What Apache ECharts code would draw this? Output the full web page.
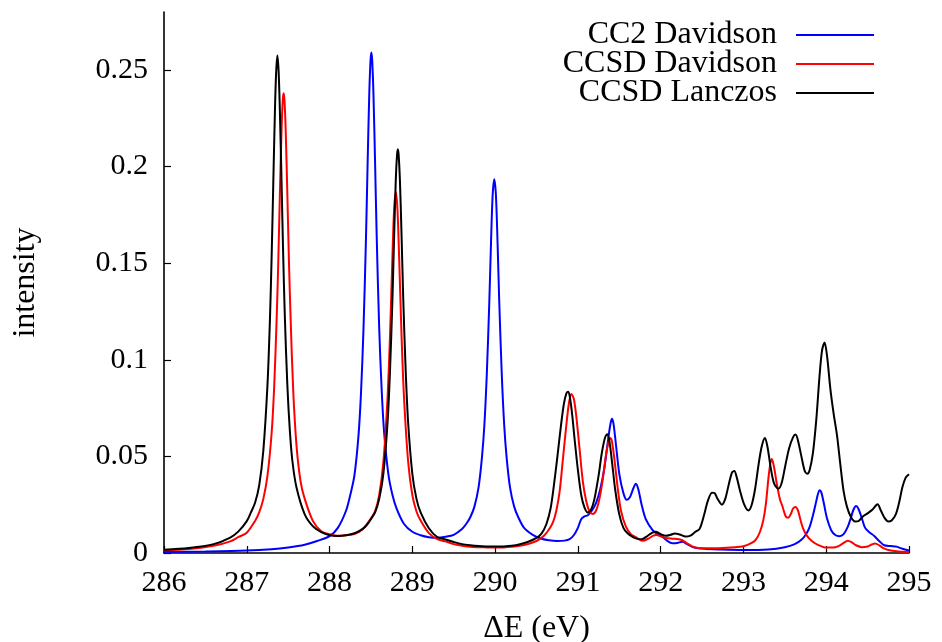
<!DOCTYPE html>
<html>
<head>
<meta charset="utf-8">
<script src="https://cdn.jsdelivr.net/npm/echarts@6/dist/echarts.min.js"></script>
<style>
html,body{margin:0;padding:0;background:#fff;}
#chart{width:942px;height:642px;}
</style>
</head>
<body>
<div id="chart"></div>
<script>
// ---- data ----
const seriesNames = ['CC2 Davidson', 'CCSD Davidson', 'CCSD Lanczos'];
const xTicks = [286, 287, 288, 289, 290, 291, 292, 293, 294, 295];
const yTicks = [0, 0.05, 0.1, 0.15, 0.2, 0.25];

const cc2X = [286.0,286.5,287.0,287.3,287.5,287.7,287.85,288.0,288.1,288.2,288.25,288.3,288.35,288.38,288.41,288.44,288.46,288.48,288.495,288.505,288.515,288.53,288.55,288.57,288.6,288.63,288.66,288.71,288.76,288.81,288.9,289.0,289.1,289.2,289.3,289.4,289.5,289.6,289.65,289.7,289.75,289.8,289.84,289.87,289.9,289.93,289.95,289.97,289.99,290.01,290.03,290.05,290.08,290.11,290.14,290.18,290.23,290.28,290.35,290.45,290.55,290.65,290.75,290.84,290.9,290.95,291.0,291.04,291.08,291.12,291.17,291.22,291.27,291.32,291.36,291.39,291.41,291.43,291.46,291.5,291.55,291.59,291.63,291.67,291.7,291.73,291.77,291.82,291.9,291.96,292.02,292.08,292.14,292.2,292.26,292.32,292.38,292.46,292.55,292.7,293.0,293.3,293.5,293.62,293.7,293.76,293.8,293.84,293.87,293.9,293.92,293.94,293.97,294.01,294.06,294.11,294.16,294.21,294.26,294.3,294.33,294.36,294.39,294.43,294.47,294.52,294.58,294.64,294.7,294.78,294.85,294.92,295.0];
const cc2Y = [0.0005,0.0008,0.0013,0.0020,0.0029,0.0043,0.0062,0.0087,0.013,0.022,0.030,0.040,0.061,0.083,0.116,0.163,0.202,0.238,0.255,0.259,0.255,0.238,0.202,0.163,0.116,0.084,0.062,0.041,0.030,0.023,0.015,0.011,0.0092,0.0082,0.0079,0.0084,0.0094,0.0124,0.015,0.0185,0.024,0.034,0.049,0.066,0.093,0.130,0.160,0.185,0.1935,0.185,0.160,0.130,0.093,0.066,0.049,0.034,0.024,0.0185,0.013,0.0095,0.0075,0.0066,0.0062,0.0064,0.0072,0.0092,0.013,0.0175,0.019,0.0195,0.022,0.026,0.033,0.044,0.057,0.066,0.0695,0.067,0.056,0.041,0.031,0.0275,0.029,0.0335,0.0358,0.033,0.025,0.0175,0.012,0.0098,0.0084,0.0063,0.0051,0.0052,0.0058,0.0046,0.0032,0.0024,0.0021,0.0018,0.0015,0.0018,0.0030,0.0046,0.0068,0.0100,0.0135,0.0195,0.025,0.0305,0.0325,0.0315,0.026,0.0178,0.0118,0.0093,0.0087,0.0098,0.0135,0.0185,0.0225,0.0243,0.0228,0.018,0.013,0.0108,0.0088,0.0062,0.0040,0.0036,0.0033,0.0022,0.0013];

const ccsdDavX = [286.0,286.3,286.6,286.8,286.9,287.0,287.1,287.15,287.2,287.25,287.3,287.33,287.36,287.38,287.4,287.42,287.435,287.445,287.455,287.47,287.49,287.51,287.53,287.56,287.6,287.65,287.7,287.8,287.9,288.0,288.1,288.2,288.3,288.4,288.5,288.55,288.6,288.65,288.7,288.73,288.76,288.78,288.8,288.82,288.84,288.87,288.9,288.95,289.0,289.05,289.1,289.2,289.3,289.4,289.5,289.6,289.7,289.8,289.9,290.0,290.1,290.2,290.3,290.4,290.5,290.58,290.64,290.7,290.74,290.78,290.82,290.86,290.89,290.92,290.95,290.98,291.02,291.06,291.1,291.14,291.18,291.22,291.26,291.3,291.34,291.37,291.39,291.41,291.44,291.48,291.52,291.58,291.64,291.7,291.78,291.85,291.91,291.95,292.0,292.06,292.14,292.2,292.26,292.32,292.4,292.5,292.7,292.9,293.0,293.1,293.15,293.2,293.24,293.27,293.3,293.32,293.34,293.36,293.38,293.4,293.44,293.47,293.51,293.54,293.57,293.6,293.63,293.66,293.69,293.72,293.77,293.83,293.9,294.0,294.08,294.15,294.21,294.26,294.31,294.36,294.43,294.5,294.55,294.59,294.64,294.69,294.75,294.85,295.0];
const ccsdDavY = [0.0014,0.0021,0.0037,0.0060,0.0083,0.0105,0.0166,0.021,0.028,0.040,0.062,0.085,0.120,0.150,0.186,0.219,0.2347,0.238,0.2347,0.219,0.186,0.150,0.121,0.085,0.056,0.037,0.028,0.0165,0.0113,0.0097,0.0089,0.0092,0.0098,0.0123,0.018,0.0215,0.030,0.047,0.080,0.112,0.154,0.178,0.187,0.178,0.154,0.112,0.080,0.047,0.030,0.0215,0.0168,0.0103,0.0072,0.0060,0.0046,0.0038,0.0032,0.0030,0.0029,0.0028,0.0029,0.0032,0.0037,0.0047,0.0062,0.0085,0.0115,0.016,0.022,0.032,0.049,0.066,0.077,0.0823,0.080,0.071,0.054,0.037,0.027,0.0215,0.0202,0.022,0.028,0.038,0.051,0.0575,0.0595,0.058,0.049,0.034,0.022,0.0136,0.0098,0.0082,0.0063,0.0074,0.0090,0.0093,0.0086,0.0078,0.0074,0.0072,0.0066,0.0050,0.0031,0.0024,0.0025,0.0030,0.0035,0.0052,0.0069,0.011,0.017,0.025,0.038,0.045,0.0486,0.0465,0.042,0.0365,0.028,0.0243,0.019,0.0182,0.020,0.023,0.0238,0.0218,0.017,0.0128,0.0087,0.0061,0.0042,0.0028,0.0028,0.0036,0.0052,0.0064,0.0055,0.0040,0.0030,0.0034,0.0044,0.0049,0.0040,0.0025,0.0016,0.0009,0.0005];

const lanczosX = [286.0,286.3,286.6,286.8,286.9,287.0,287.05,287.1,287.15,287.2,287.25,287.28,287.3,287.32,287.34,287.355,287.37,287.385,287.4,287.42,287.44,287.46,287.49,287.52,287.55,287.6,287.7,287.8,287.9,288.0,288.1,288.2,288.3,288.4,288.45,288.5,288.55,288.6,288.65,288.7,288.73,288.76,288.78,288.8,288.815,288.825,288.835,288.85,288.87,288.89,288.92,288.95,289.0,289.05,289.1,289.2,289.3,289.4,289.5,289.6,289.7,289.8,289.9,290.0,290.1,290.2,290.3,290.4,290.5,290.56,290.62,290.67,290.71,290.75,290.79,290.83,290.86,290.88,290.9,290.93,290.96,291.0,291.04,291.08,291.12,291.16,291.2,291.25,291.29,291.33,291.355,291.38,291.41,291.45,291.5,291.55,291.6,291.66,291.72,291.77,291.83,291.89,291.94,292.0,292.06,292.12,292.17,292.23,292.3,292.36,292.42,292.47,292.52,292.57,292.62,292.65,292.69,292.74,292.78,292.82,292.86,292.89,292.92,292.96,293.01,293.06,293.1,293.14,293.18,293.22,293.26,293.29,293.33,293.37,293.42,293.46,293.5,293.55,293.6,293.63,293.66,293.7,293.74,293.77,293.8,293.84,293.88,293.92,293.95,293.98,294.01,294.05,294.09,294.13,294.17,294.21,294.25,294.3,294.35,294.39,294.44,294.5,294.56,294.62,294.66,294.7,294.75,294.79,294.84,294.88,294.92,294.96,295.0];
const lanczosY = [0.0017,0.0026,0.0046,0.0080,0.0112,0.0165,0.021,0.026,0.035,0.053,0.087,0.121,0.153,0.191,0.2285,0.249,0.2575,0.249,0.2285,0.192,0.154,0.122,0.087,0.0635,0.048,0.034,0.020,0.0138,0.0108,0.0092,0.0088,0.0092,0.0102,0.0125,0.0145,0.0175,0.021,0.028,0.041,0.067,0.094,0.132,0.164,0.193,0.206,0.209,0.206,0.193,0.164,0.132,0.094,0.067,0.041,0.028,0.021,0.0128,0.0083,0.0070,0.0057,0.0046,0.0040,0.0036,0.0034,0.0033,0.0034,0.0037,0.0045,0.0058,0.0078,0.0100,0.0150,0.023,0.035,0.049,0.064,0.077,0.0825,0.0835,0.0815,0.072,0.059,0.043,0.030,0.0235,0.021,0.0225,0.028,0.040,0.052,0.060,0.0615,0.058,0.048,0.033,0.020,0.013,0.0102,0.0084,0.0073,0.0071,0.0085,0.0103,0.011,0.0098,0.0089,0.0094,0.0101,0.0096,0.0085,0.0090,0.011,0.0125,0.019,0.027,0.0312,0.031,0.0278,0.025,0.028,0.035,0.0415,0.0425,0.039,0.032,0.025,0.022,0.025,0.033,0.045,0.055,0.0595,0.055,0.044,0.036,0.0333,0.036,0.044,0.054,0.060,0.0613,0.058,0.050,0.0425,0.041,0.043,0.052,0.069,0.092,0.105,0.109,0.102,0.085,0.072,0.061,0.046,0.032,0.024,0.0185,0.0163,0.0165,0.0188,0.0205,0.0225,0.0252,0.022,0.0185,0.0163,0.0168,0.020,0.026,0.034,0.039,0.0408];

const colors = ['#0000ff', '#ff0000', '#000000'];
const FONT = '"Liberation Serif", "Times New Roman", serif';

function pairs(xs, ys) { return xs.map((x, i) => [x, ys[i]]); }
const seriesData = [pairs(cc2X, cc2Y), pairs(ccsdDavX, ccsdDavY), pairs(lanczosX, lanczosY)];

const chart = echarts.init(document.getElementById('chart'), null, {renderer: 'canvas'});

const legendRowsTop = [19, 48, 77];
const legends = seriesNames.map((n, i) => ({
  data: [n],
  right: 68,
  top: legendRowsTop[i],
  orient: 'vertical',
  align: 'right',
  icon: 'rect',
  itemWidth: 78,
  itemHeight: 2,
  padding: 0,
  selectedMode: false,
  textStyle: {fontFamily: FONT, fontSize: 32, color: '#000', padding: [0, 14, 0, 0]}
}));

chart.setOption({
  animation: false,
  backgroundColor: '#fff',
  color: colors,
  grid: {left: 164, right: 33, top: 12, bottom: 89, containLabel: false, outerBoundsMode: 'none'},
  legend: legends,
  xAxis: {
    type: 'value', min: 286, max: 295, interval: 1,
    name: 'ΔE (eV)', nameLocation: 'middle', nameGap: 60,
    nameTextStyle: {fontFamily: FONT, fontSize: 32, color: '#000'},
    axisLine: {show: true, lineStyle: {color: '#000', width: 1.6}},
    axisTick: {show: true, inside: true, length: 7, lineStyle: {color: '#000', width: 1.2}},
    axisLabel: {fontFamily: FONT, fontSize: 30, color: '#000', margin: 15, customValues: xTicks},
    splitLine: {show: false}
  },
  yAxis: {
    type: 'value', min: 0, max: 0.28,
    name: 'intensity', nameLocation: 'middle', nameGap: 122,
    nameTextStyle: {fontFamily: FONT, fontSize: 32, color: '#000'},
    axisLine: {show: true, lineStyle: {color: '#000', width: 1.6}},
    axisTick: {show: true, inside: true, length: 7, customValues: yTicks, lineStyle: {color: '#000', width: 1.2}},
    axisLabel: {fontFamily: FONT, fontSize: 30, color: '#000', margin: 16, customValues: yTicks},
    splitLine: {show: false}
  },
  series: seriesNames.map((n, i) => ({
    name: n, type: 'line', data: seriesData[i],
    showSymbol: false, symbol: 'none', smooth: 0.3,
    lineStyle: {color: colors[i], width: 2},
    itemStyle: {color: colors[i]},
    clip: true
  }))
});
</script>
</body>
</html>
